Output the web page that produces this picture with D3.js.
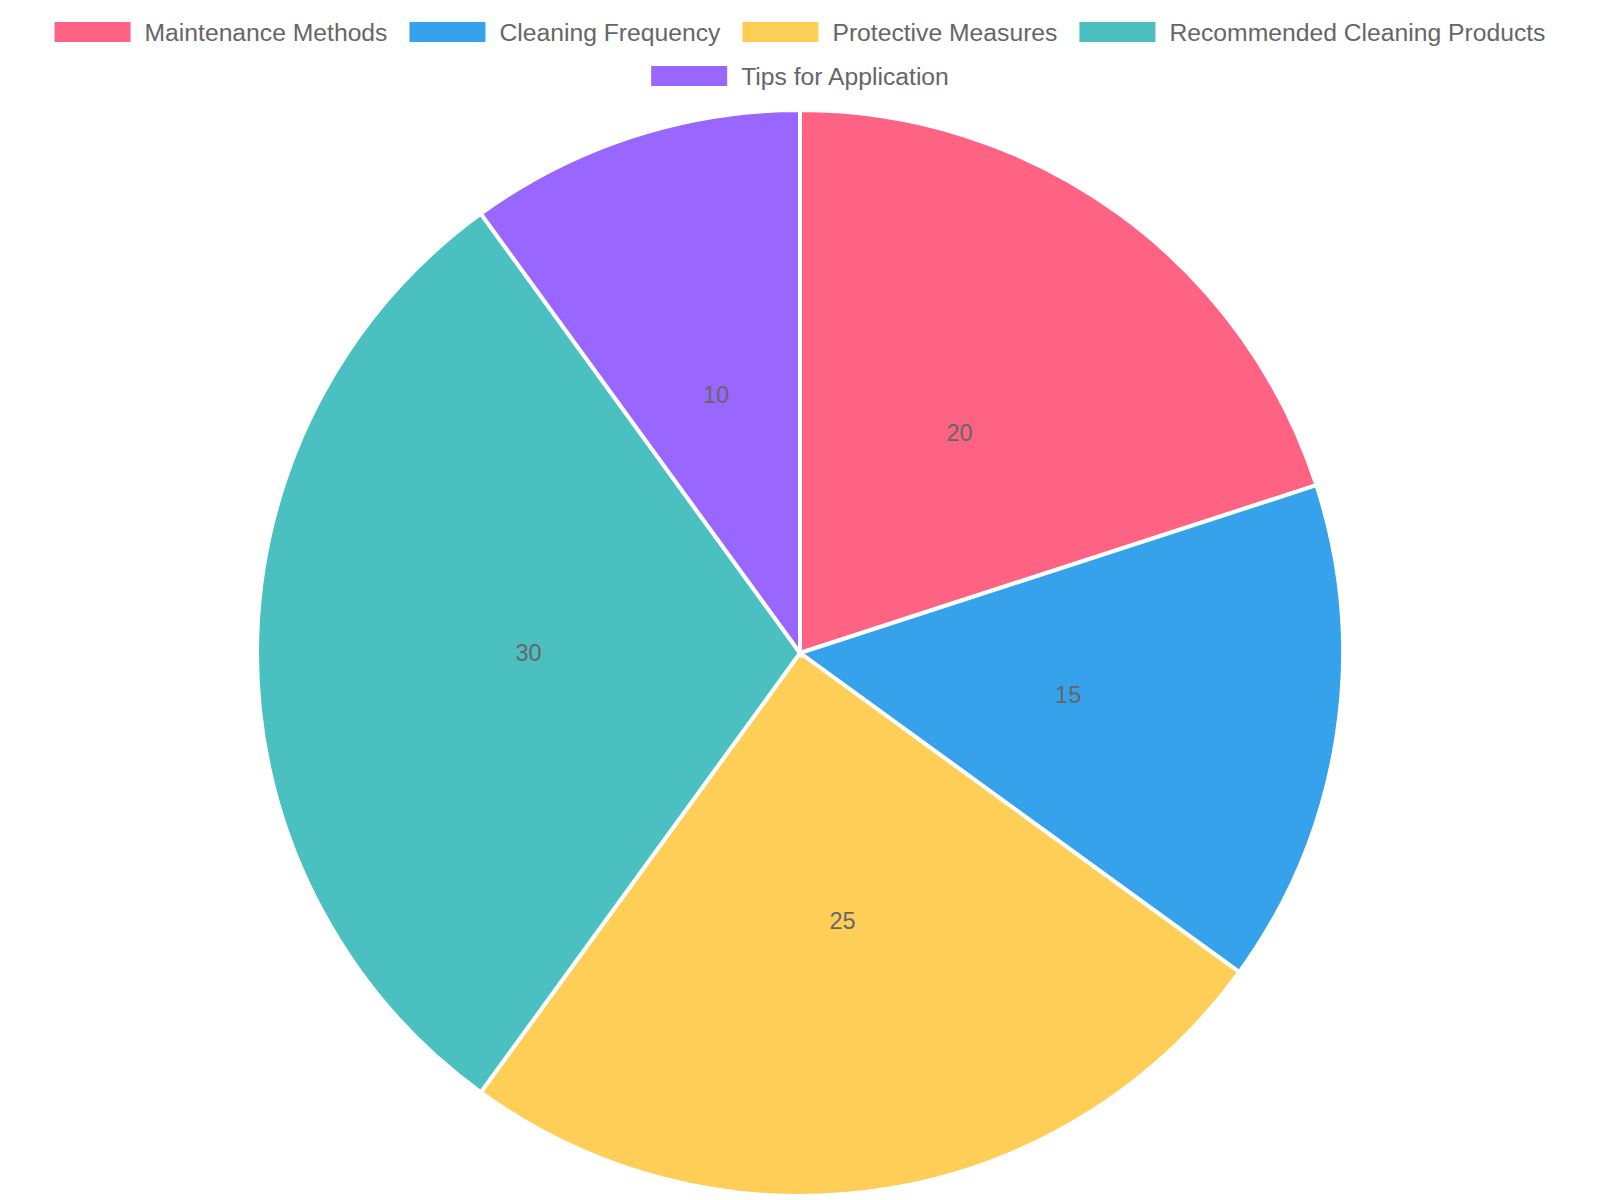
<!DOCTYPE html>
<html lang="en">
<head>
    <meta charset="UTF-8">
    <script src="https://d3js.org/d3.v7.min.js"></script>
    <style>
        body { margin: 0; background: #fff; }
        svg { display: block; }
    </style>
</head>
<body>
    <svg width="1600" height="1200"></svg>

    <script>
        let labels = ["Maintenance Methods", "Cleaning Frequency", "Protective Measures", "Recommended Cleaning Products", "Tips for Application"];
        let values = [20, 15, 25, 30, 10];
        let colors = ["#FF6384", "#36A2EB", "#FFCE56", "#4BC0C0", "#9966FF"];

        let svg = d3.select("svg");
        let width = +svg.attr("width");
        let font = "'Liberation Sans', Arial, Helvetica, sans-serif";

        // pie geometry
        let cx = 800, cy = 653, radius = 543;
        let g = svg.append("g").attr("transform", "translate(" + cx + "," + cy + ")");

        let color = d3.scaleOrdinal().domain(labels).range(colors);
        let pie = d3.pie().sort(null).value(d => d.value);
        let arc = d3.arc().innerRadius(0).outerRadius(radius);
        let labelArc = d3.arc().innerRadius(radius / 2).outerRadius(radius / 2);

        let data = labels.map((l, i) => ({ label: l, value: values[i] }));

        let arcs = g.selectAll(".arc")
            .data(pie(data))
            .enter()
            .append("g")
            .attr("class", "arc");

        arcs.append("path")
            .attr("d", arc)
            .attr("fill", d => color(d.data.label))
            .attr("stroke", "#fff")
            .attr("stroke-width", 4)
            .attr("stroke-linejoin", "miter");

        arcs.append("text")
            .attr("transform", d => "translate(" + labelArc.centroid(d) + ")")
            .attr("text-anchor", "middle")
            .attr("dominant-baseline", "central")
            .attr("font-family", font)
            .attr("font-size", 23.5)
            .attr("fill", "#666")
            .text(d => d.data.value);

        // legend, wrapped into centred rows like Chart.js does
        let boxW = 76, boxH = 20, textGap = 14, itemGap = 22, rowH = 44, firstRowY = 32;
        let legend = svg.append("g").attr("class", "legend");

        let items = legend.selectAll(".item")
            .data(labels)
            .enter()
            .append("g")
            .attr("class", "item");

        items.append("rect")
            .attr("width", boxW)
            .attr("height", boxH)
            .attr("y", -boxH / 2)
            .attr("fill", d => color(d));

        items.append("text")
            .attr("x", boxW + textGap)
            .attr("dominant-baseline", "central")
            .attr("font-family", font)
            .attr("font-size", 24.7)
            .attr("fill", "#666")
            .text(d => d);

        let widths = [];
        items.each(function() {
            widths.push(boxW + textGap + d3.select(this).select("text").node().getComputedTextLength());
        });

        let rows = [[]];
        let rowWidth = 0;
        widths.forEach((w, i) => {
            let add = rows[rows.length - 1].length ? itemGap + w : w;
            if (rowWidth + add > width - 40 && rows[rows.length - 1].length) {
                rows.push([i]);
                rowWidth = w;
            } else {
                rows[rows.length - 1].push(i);
                rowWidth += add;
            }
        });

        rows.forEach((row, r) => {
            let total = d3.sum(row, i => widths[i]) + itemGap * (row.length - 1);
            let x = width / 2 - total / 2;
            row.forEach(i => {
                items.filter((d, j) => j === i)
                    .attr("transform", "translate(" + x + "," + (firstRowY + r * rowH) + ")");
                x += widths[i] + itemGap;
            });
        });
    </script>
</body>
</html>
